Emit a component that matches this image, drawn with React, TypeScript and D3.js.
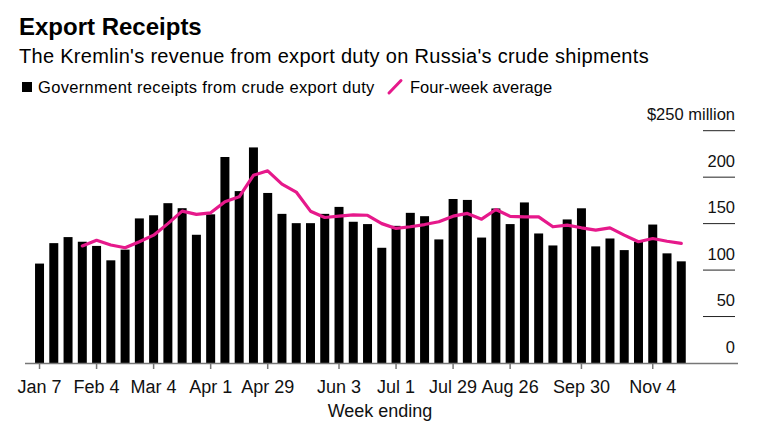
import React, { useEffect, useRef } from "react";
import * as d3 from "d3";

// weeks ending (Sundays), 2018
const weeks = [
  "Jan 7", "Jan 14", "Jan 21", "Jan 28", "Feb 4", "Feb 11", "Feb 18", "Feb 25",
  "Mar 4", "Mar 11", "Mar 18", "Mar 25", "Apr 1", "Apr 8", "Apr 15", "Apr 22",
  "Apr 29", "May 6", "May 13", "May 20", "May 27", "Jun 3", "Jun 10", "Jun 17",
  "Jun 24", "Jul 1", "Jul 8", "Jul 15", "Jul 22", "Jul 29", "Aug 5", "Aug 12",
  "Aug 19", "Aug 26", "Sep 2", "Sep 9", "Sep 16", "Sep 23", "Sep 30", "Oct 7",
  "Oct 14", "Oct 21", "Oct 28", "Nov 4", "Nov 11", "Nov 18",
];

// $ million
const receipts = [
  107, 129, 135.5, 130.5, 126, 110.5, 122, 155.6, 159, 172, 166.6, 138,
  160, 221.7, 185, 232, 183, 160.5, 150.5, 150.5, 160.5, 168, 152, 149.5,
  124, 147.6, 161.6, 158, 133, 176.5, 175.5, 135, 166.3, 149.5, 172.8, 139.4,
  126.5, 154.5, 166.5, 125.5, 134, 121.5, 130.5, 149, 118, 109.4,
];

const fourWeekAvg: (number | null)[] = [
  null, null, null, 126, 132, 127, 124, 130.5, 137.6, 150, 163.4, 160,
  161.6, 173.5, 178.8, 202, 206.8, 192.5, 184, 163.4, 156.6, 158, 159.5, 159,
  150, 144.8, 146.6, 149, 152, 158, 161, 154.8, 165.2, 157.8, 157.3, 157.3,
  146.6, 148.4, 145.5, 143, 145.5, 137.6, 130.5, 134, 131, 128.7,
];

const tickWeeks = ["Jan 7", "Feb 4", "Mar 4", "Apr 1", "Apr 29", "Jun 3", "Jul 1", "Jul 29", "Aug 26", "Sep 30", "Nov 4"];
const yTicks = [0, 50, 100, 150, 200, 250];

const W = 758;
const H = 427;
const PINK = "#e6198b";

export default function App() {
  const ref = useRef<SVGSVGElement>(null);

  useEffect(() => {
    const svg = d3.select(ref.current);
    svg.selectAll("*").remove();

    const font = "'Liberation Sans', Arial, sans-serif";

    const x = d3.scaleBand<string>()
      .domain(weeks)
      .range([32.4, 688.4])
      .paddingInner(0.37)
      .paddingOuter(0.185);

    const y = d3.scaleLinear().domain([0, 250]).range([363, 130.7]);

    // titles
    svg.append("text")
      .attr("x", 19).attr("y", 35)
      .style("font-family", font).style("font-weight", "bold").style("font-size", "24px")
      .attr("fill", "#000")
      .text("Export Receipts");

    svg.append("text")
      .attr("x", 19).attr("y", 63)
      .style("font-family", font).style("font-size", "20px").style("letter-spacing", "0.3px")
      .attr("fill", "#000")
      .text("The Kremlin's revenue from export duty on Russia's crude shipments");

    // legend
    const legend = svg.append("g").style("font-family", font).style("font-size", "16.5px");
    legend.append("rect").attr("x", 22).attr("y", 82).attr("width", 10).attr("height", 10).attr("fill", "#000");
    legend.append("text").attr("x", 38).attr("y", 92.5).style("letter-spacing", "0.33px")
      .text("Government receipts from crude export duty");
    legend.append("line")
      .attr("x1", 389).attr("y1", 93).attr("x2", 401).attr("y2", 80.5)
      .attr("stroke", PINK).attr("stroke-width", 3).attr("stroke-linecap", "round");
    legend.append("text").attr("x", 410).attr("y", 92.5).text("Four-week average");

    // y gridlines + labels on the right
    const yAxis = svg.append("g").style("font-family", font).style("font-size", "16.5px");
    yAxis.selectAll("line")
      .data(yTicks.filter(d => d > 0))
      .enter()
      .append("line")
      .attr("x1", 703).attr("x2", 735)
      .attr("y1", d => y(d)).attr("y2", d => y(d))
      .attr("stroke", "#222").attr("stroke-width", 1);
    yAxis.selectAll("text")
      .data(yTicks)
      .enter()
      .append("text")
      .attr("x", 735)
      .attr("y", d => y(d) - 10.5)
      .attr("text-anchor", "end")
      .attr("fill", "#111")
      .text(d => (d === 250 ? "$250 million" : String(d)));

    // bars
    svg.append("g")
      .selectAll("rect")
      .data(receipts)
      .enter()
      .append("rect")
      .attr("x", (d, i) => x(weeks[i])!)
      .attr("y", d => y(d))
      .attr("width", x.bandwidth())
      .attr("height", d => y(0) - y(d))
      .attr("fill", "#000");

    // x axis
    svg.append("line")
      .attr("x1", 25).attr("x2", 738)
      .attr("y1", 363.5).attr("y2", 363.5)
      .attr("stroke", "#777").attr("stroke-width", 1.5);

    const xAxis = svg.append("g").style("font-family", "'Liberation Sans Narrow', 'Liberation Sans', sans-serif").style("font-size", "18px");
    const cx = (w: string) => x(w)! + x.bandwidth() / 2;
    xAxis.selectAll("line")
      .data(tickWeeks)
      .enter()
      .append("line")
      .attr("x1", d => cx(d)).attr("x2", d => cx(d))
      .attr("y1", 363).attr("y2", 369)
      .attr("stroke", "#777").attr("stroke-width", 1.5);
    xAxis.selectAll("text")
      .data(tickWeeks)
      .enter()
      .append("text")
      .attr("x", d => cx(d))
      .attr("y", 392.5)
      .attr("text-anchor", "middle")
      .attr("fill", "#111")
      .text(d => d);
    xAxis.append("text")
      .attr("x", 380).attr("y", 417)
      .attr("text-anchor", "middle")
      .attr("fill", "#111")
      .text("Week ending");

    // four-week average line
    const line = d3.line<number | null>()
      .defined(d => d !== null)
      .x((d, i) => cx(weeks[i]))
      .y(d => y(d as number));

    svg.append("path")
      .datum(fourWeekAvg)
      .attr("d", line)
      .attr("fill", "none")
      .attr("stroke", PINK)
      .attr("stroke-width", 3.2)
      .attr("stroke-linejoin", "round")
      .attr("stroke-linecap", "round");
  }, []);

  return (
    <svg
      ref={ref}
      width={W}
      height={H}
      style={{ position: "absolute", left: 0, top: 0, background: "#fff" }}
    />
  );
}
